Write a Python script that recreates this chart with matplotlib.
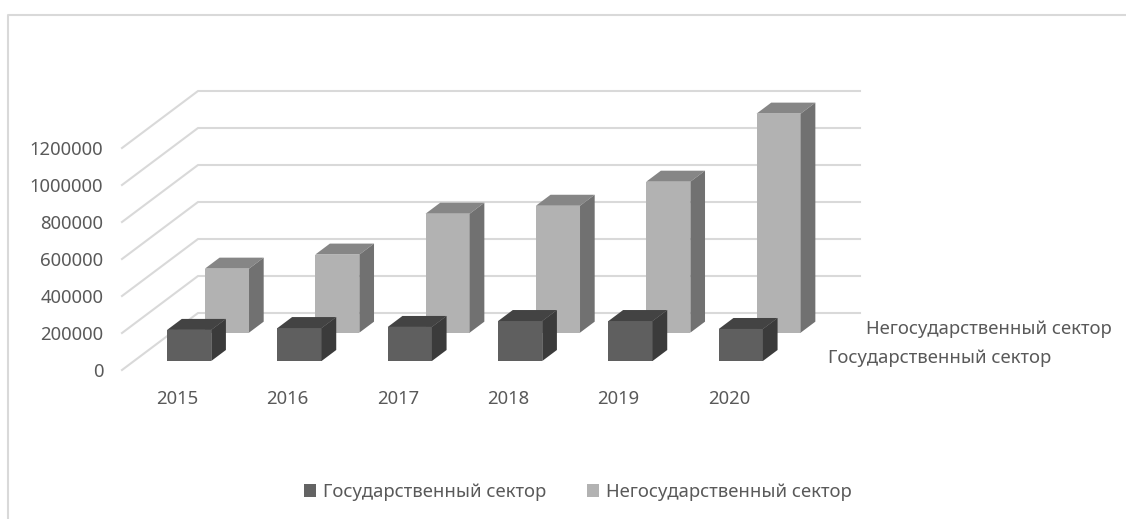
#!/usr/bin/env python3
"""Faux 3D column chart: state and non-state sector, 2015-2020."""

import matplotlib

matplotlib.use("Agg")

import matplotlib.pyplot as plt
from matplotlib.lines import Line2D
from matplotlib.patches import Patch, Polygon

years = ["2015", "2016", "2017", "2018", "2019", "2020"]
state_sector = [168000, 178000, 184000, 216000, 216000, 173000]
private_sector = [346000, 422000, 643000, 686000, 816000, 1184000]
y_ticks = [0, 200000, 400000, 600000, 800000, 1000000, 1200000]
state_label = "Государственный сектор"
private_label = "Негосударственный сектор"

W, H = 1126, 519
GRID = "#d9d9d9"
TEXT = "#595959"
FONT = 13.3

# shift of the floor's back edge, in data units
DEPTH_DX = 76 / 110.33
DEPTH_DY = 308108
BAR_W = 0.4
BAR_DEPTH = 0.193

plt.rcParams["font.family"] = ["Noto Sans", "DejaVu Sans"]


def draw_bars(ax, values, depth, front, top, side):
    dx0, dy0 = depth * DEPTH_DX, depth * DEPTH_DY
    dx, dy = BAR_DEPTH * DEPTH_DX, BAR_DEPTH * DEPTH_DY
    for i, value in enumerate(values):
        left = i + 0.5 - BAR_W / 2 + dx0
        right = left + BAR_W
        upper = dy0 + value
        ax.bar(left, value, BAR_W, bottom=dy0, align="edge", color=front, zorder=3)
        ax.add_patch(Polygon(
            [(left, upper), (right, upper), (right + dx, upper + dy), (left + dx, upper + dy)],
            closed=True, facecolor=top, edgecolor="none", zorder=3, clip_on=False,
        ))
        ax.add_patch(Polygon(
            [(right, dy0), (right + dx, dy0 + dy), (right + dx, upper + dy), (right, upper)],
            closed=True, facecolor=side, edgecolor="none", zorder=3, clip_on=False,
        ))


fig = plt.figure(figsize=(W / 100, H / 100), dpi=100, facecolor="white")
ax = fig.add_axes([122 / W, (H - 370) / H, 738 / W, 279 / H])
ax.set_xlim(0, 6 + DEPTH_DX)
ax.set_ylim(0, y_ticks[-1] + DEPTH_DY)
for spine in ax.spines.values():
    spine.set_visible(False)

for value in y_ticks:
    ax.plot(
        [0, DEPTH_DX, 6 + DEPTH_DX],
        [value, value + DEPTH_DY, value + DEPTH_DY],
        color=GRID, lw=1.5, zorder=1, clip_on=False,
    )

draw_bars(ax, private_sector, 0.655, "#b2b2b2", "#868686", "#717171")
draw_bars(ax, state_sector, 0.158, "#5f5f5f", "#434343", "#3b3b3b")

ax.set_yticks(y_ticks, [str(v) for v in y_ticks])
ax.set_xticks([i + 0.5 for i in range(len(years))], years)
ax.tick_params(axis="y", length=0, pad=13.5, labelsize=FONT, labelcolor=TEXT)
ax.tick_params(axis="x", length=0, pad=14.5, labelsize=FONT, labelcolor=TEXT)

# series names along the depth axis
fig.text(866 / W, 1 - 329 / H, private_label, color=TEXT, fontsize=FONT, va="center", ha="left")
fig.text(828 / W, 1 - 358 / H, state_label, color=TEXT, fontsize=FONT, va="center", ha="left")

handles = [
    Patch(facecolor="#636363", edgecolor="none", label=state_label),
    Patch(facecolor="#b2b2b2", edgecolor="none", label=private_label),
]
fig.legend(
    handles=handles, loc="center", bbox_to_anchor=(578 / W, 1 - 492 / H), ncols=2,
    frameon=False, fontsize=FONT, labelcolor=TEXT, handlelength=0.65, handleheight=0.65,
    handletextpad=0.4, columnspacing=2.2, borderpad=0,
)

# chart frame, cropped at the right and bottom of the picture
fig.add_artist(Line2D([8 / W, 8 / W, 1], [0, 1 - 15 / H, 1 - 15 / H], color=GRID, lw=1.5))

fig.savefig("out.png", dpi=100)
